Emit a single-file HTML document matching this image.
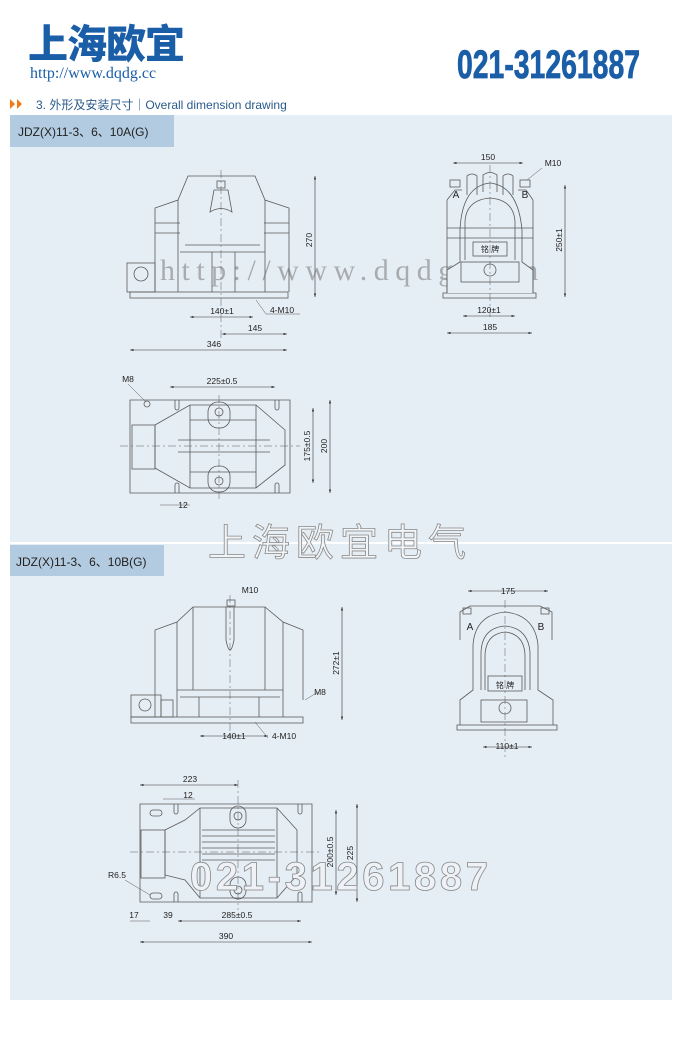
<!DOCTYPE html>
<html><head><meta charset="utf-8">
<style>
html,body{margin:0;padding:0;background:#fff;}
body{width:680px;height:1050px;position:relative;overflow:hidden;font-family:"Liberation Sans","Noto Sans CJK SC",sans-serif;}
</style></head><body>
<svg width="680" height="1050" viewBox="0 0 680 1050" xmlns="http://www.w3.org/2000/svg" style="position:absolute;left:0;top:0">
<defs>
<marker id="a" markerWidth="6" markerHeight="4" refX="6" refY="2" orient="auto-start-reverse"><path d="M0,0 L6,2 L0,4z" fill="#333"/></marker>
</defs>
<!-- header -->
<text x="28" y="58" font-family="'Noto Sans CJK SC',sans-serif" font-weight="900" font-size="40" fill="#1a5ea8" letter-spacing="-1">上海欧宜</text>
<text x="30" y="78" font-family="'Liberation Serif',serif" font-size="16" fill="#1a5ea8">http://www.dqdg.cc</text>
<text x="457" y="78" font-family="'Liberation Sans Narrow','Liberation Sans',sans-serif" font-weight="bold" font-size="40" fill="#1a5ea8" stroke="#1a5ea8" stroke-width="0.8" textLength="183" lengthAdjust="spacingAndGlyphs">021-31261887</text>
<path d="M10,99 L15,104 L10,109z M17,99 L22,104 L17,109z" fill="#f07a1a"/>
<text x="36" y="109" font-size="12" fill="#2a5a8a">3. 外形及安装尺寸｜Overall dimension drawing</text>
<!-- panel -->
<rect x="10" y="115" width="662" height="885" fill="#e6eef5"/>
<line x1="10" y1="543" x2="672" y2="543" stroke="#fff" stroke-width="2"/>
<rect x="10" y="115" width="164" height="32" fill="#b3cbe0"/>
<text x="18" y="136" font-size="12" fill="#222">JDZ(X)11-3、6、10A(G)</text>
<rect x="10" y="545" width="154" height="31" fill="#b3cbe0"/>
<text x="16" y="566" font-size="12" fill="#222">JDZ(X)11-3、6、10B(G)</text>

<!-- URL watermark (behind drawings) -->
<text x="160" y="280" font-family="'Liberation Serif',serif" font-size="30" letter-spacing="6.5" fill="#a8acb0">http://www.dqdg.com</text>

<g stroke="#5a5a5a" stroke-width="0.8" fill="none">
<!-- A front -->
<rect x="130" y="292" width="158" height="6"/>
<rect x="127" y="263" width="28" height="29"/>
<circle cx="141" cy="274" r="7"/>
<path d="M155,292 V208 L178,200 L188,176 H255 L265,200 L289,208 V292"/>
<path d="M178,200 V292 M265,200 V292 M155,223 H180 M155,233 H180 M264,223 H289 M264,233 H289"/>
<path d="M180,252 H265 M185,245 H260 M212,292 V252 M235,292 V252"/>
<path d="M210,212 L214,190 H228 L232,212 Q221,205 210,212z"/>
<rect x="217" y="181" width="8" height="7"/>
<line x1="221" y1="170" x2="221" y2="340" stroke-dasharray="8,3,2,3" stroke-width="0.5"/>
<!-- A side -->
<rect x="443" y="293" width="93" height="5" fill="#e6eef5"/>
<path d="M447,293 V270 L460,262 V230 Q462,186 490,183 Q518,186 522,230 V262 L533,270 V293" fill="#e6eef5"/>
<path d="M447,200 L455,190 H462 M533,200 L526,190 H518"/>
<path d="M447,200 V293 M533,200 V293"/>
<path d="M465,260 V222 Q466,200 490,198 Q514,200 515,222 V260"/>
<path d="M467,195 V176 Q472,172 477,176 V195 M483,192 V175 Q490,170 497,175 V192 M503,195 V176 Q508,172 513,176 V195"/>
<path d="M447,228 H533 M447,238 H533"/>
<rect x="473" y="242" width="34" height="14"/>
<rect x="461" y="262" width="58" height="20"/>
<circle cx="490" cy="270" r="6"/>
<rect x="450" y="180" width="10" height="7"/><rect x="520" y="180" width="10" height="7"/>
<line x1="490" y1="165" x2="490" y2="320" stroke-dasharray="8,3,2,3" stroke-width="0.5"/>
<!-- A plan -->
<path d="M130,400 H290 V493 H130z"/>
<path d="M175,400 v8 a2,2 0 0 0 4,0 v-8 M275,400 v8 a2,2 0 0 0 4,0 v-8 M175,493 v-8 a2,2 0 0 1 4,0 v8 M275,493 v-8 a2,2 0 0 1 4,0 v8"/>
<path d="M155,425 L190,405 H256 L285,430 V465 L256,488 H190 L155,468z"/>
<path d="M190,405 V488 M256,405 V488 M178,440 H270 M178,452 H270 M190,420 H256 M190,472 H256"/>
<rect x="208" y="402" width="22" height="26" rx="10"/><circle cx="219" cy="412" r="4"/>
<rect x="208" y="466" width="22" height="26" rx="10"/><circle cx="219" cy="481" r="4"/>
<rect x="132" y="425" width="23" height="44"/>
<circle cx="147" cy="404" r="3"/>
<line x1="120" y1="446" x2="300" y2="446" stroke-dasharray="8,3,2,3" stroke-width="0.5"/>
<line x1="219" y1="395" x2="219" y2="500" stroke-dasharray="8,3,2,3" stroke-width="0.5"/>
<!-- B front -->
<rect x="131" y="717" width="172" height="6"/>
<rect x="131" y="695" width="30" height="22"/><rect x="161" y="700" width="12" height="17"/>
<circle cx="145" cy="705" r="6"/>
<path d="M155,717 V630 L177,622 L193,607 H265 L283,622 L303,630 V700"/>
<path d="M177,622 V717 M283,622 V717 M193,607 V690 M265,607 V690"/>
<path d="M177,690 H283 M180,697 H280 M199,717 V697 M259,717 V697"/>
<path d="M226,607 V640 Q230,660 234,640 V607" />
<rect x="227" y="600" width="8" height="6"/>
<line x1="230" y1="595" x2="230" y2="740" stroke-dasharray="8,3,2,3" stroke-width="0.5"/>
<!-- B side -->
<rect x="457" y="725" width="100" height="5"/>
<path d="M460,725 V700 L473,690 V645 Q475,615 505,612 Q535,615 538,645 V690 L553,700 V725"/>
<path d="M460,640 V612 L470,606 H540 L552,612 V640"/>
<path d="M481,690 V652 Q482,628 505,626 Q528,628 530,652 V690"/>
<path d="M485,690 V655 Q486,634 505,632 Q524,634 525,655 V690"/>
<rect x="488" y="676" width="34" height="15"/>
<rect x="481" y="700" width="46" height="22"/>
<circle cx="505" cy="708" r="6"/>
<rect x="463" y="608" width="8" height="6"/><rect x="541" y="608" width="8" height="6"/>
<line x1="505" y1="600" x2="505" y2="760" stroke-dasharray="8,3,2,3" stroke-width="0.5"/>
<!-- B plan -->
<path d="M140,804 H312 V902 H140z"/>
<path d="M174,804 v8 a2,2 0 0 0 4,0 v-8 M298,804 v8 a2,2 0 0 0 4,0 v-8 M174,902 v-8 a2,2 0 0 1 4,0 v8 M298,902 v-8 a2,2 0 0 1 4,0 v8"/>
<path d="M165,830 L185,820 L200,808 H277 L297,830 V875 L277,898 H200 L185,880 L165,875z"/>
<path d="M200,808 V898 M277,808 V898 M202,830 H275 M202,836 H275 M202,842 H275 M202,848 H275 M202,854 H275 M202,860 H275"/>
<rect x="230" y="806" width="16" height="22" rx="8"/><circle cx="238" cy="816" r="4"/>
<rect x="230" y="877" width="16" height="22" rx="8"/><circle cx="238" cy="890" r="4"/>
<rect x="141" y="830" width="24" height="48"/>
<rect x="150" y="810" width="12" height="6" rx="3"/><rect x="150" y="893" width="12" height="6" rx="3"/>
<line x1="130" y1="852" x2="320" y2="852" stroke-dasharray="8,3,2,3" stroke-width="0.5"/>
<line x1="238" y1="780" x2="238" y2="910" stroke-dasharray="8,3,2,3" stroke-width="0.5"/>
</g>

<!-- dimensions -->
<g stroke="#333" stroke-width="0.6" fill="none" marker-start="url(#a)" marker-end="url(#a)">
<line x1="315" y1="176" x2="315" y2="297"/>
<line x1="190" y1="317" x2="253" y2="317"/>
<line x1="222" y1="334" x2="287" y2="334"/>
<line x1="130" y1="350" x2="287" y2="350"/>
<line x1="453" y1="163" x2="523" y2="163"/>
<line x1="565" y1="185" x2="565" y2="297"/>
<line x1="463" y1="316" x2="515" y2="316"/>
<line x1="447" y1="333" x2="532" y2="333"/>
<line x1="170" y1="387" x2="275" y2="387"/>
<line x1="313" y1="408" x2="313" y2="483"/>
<line x1="330" y1="400" x2="330" y2="493"/>
<line x1="200" y1="736" x2="268" y2="736"/>
<line x1="342" y1="607" x2="342" y2="720"/>
<line x1="468" y1="591" x2="548" y2="591"/>
<line x1="483" y1="747" x2="532" y2="747"/>
<line x1="140" y1="785" x2="238" y2="785"/>
<line x1="336" y1="810" x2="336" y2="895"/>
<line x1="357" y1="804" x2="357" y2="902"/>
<line x1="178" y1="921" x2="301" y2="921"/>
<line x1="140" y1="942" x2="312" y2="942"/>
</g>
<g stroke="#555" stroke-width="0.5">
<line x1="256" y1="300" x2="266" y2="314"/><line x1="266" y1="314" x2="300" y2="314"/>
<line x1="527" y1="180" x2="542" y2="168"/>
<line x1="128" y1="384" x2="146" y2="402"/>
<line x1="255" y1="722" x2="268" y2="738"/>
<line x1="305" y1="700" x2="318" y2="692"/>
<line x1="125" y1="880" x2="150" y2="895"/>
<line x1="130" y1="921" x2="150" y2="921"/>
<line x1="160" y1="505" x2="190" y2="505"/>
<line x1="163" y1="799" x2="195" y2="799"/>
</g>
<g font-size="8.5" fill="#222" text-anchor="middle">
<text x="222" y="314">140±1</text>
<text x="255" y="331">145</text>
<text x="214" y="347">346</text>
<text x="282" y="313">4-M10</text>
<text x="312" y="240" transform="rotate(-90 312 240)">270</text>
<text x="488" y="160">150</text>
<text x="553" y="166">M10</text>
<text x="562" y="240" transform="rotate(-90 562 240)">250±1</text>
<text x="489" y="313">120±1</text>
<text x="490" y="330">185</text>
<text x="456" y="198" font-size="10">A</text>
<text x="525" y="198" font-size="10">B</text>
<text x="490" y="252" font-size="8">铭 牌</text>
<text x="222" y="384">225±0.5</text>
<text x="128" y="382">M8</text>
<text x="310" y="446" transform="rotate(-90 310 446)">175±0.5</text>
<text x="327" y="446" transform="rotate(-90 327 446)">200</text>
<text x="183" y="508">12</text>
<text x="250" y="593">M10</text>
<text x="234" y="739">140±1</text>
<text x="284" y="739">4-M10</text>
<text x="320" y="695">M8</text>
<text x="339" y="663" transform="rotate(-90 339 663)">272±1</text>
<text x="508" y="594">175</text>
<text x="507" y="749">110±1</text>
<text x="470" y="630" font-size="10">A</text>
<text x="541" y="630" font-size="10">B</text>
<text x="505" y="688" font-size="8">铭 牌</text>
<text x="190" y="782">223</text>
<text x="188" y="798">12</text>
<text x="333" y="852" transform="rotate(-90 333 852)">200±0.5</text>
<text x="353" y="853" transform="rotate(-90 353 853)">225</text>
<text x="117" y="878">R6.5</text>
<text x="134" y="918">17</text>
<text x="168" y="918">39</text>
<text x="237" y="918">285±0.5</text>
<text x="226" y="939">390</text>
</g>
<!-- watermarks -->
<g fill="#f2f5f8" stroke="#888" stroke-width="0.8">
<text x="208" y="556" font-family="'Noto Sans CJK SC',sans-serif" font-size="38" letter-spacing="6">上海欧宜电气</text>
<text x="190" y="890" font-family="'Liberation Sans',sans-serif" font-size="40" fill="#eef2f6" font-weight="bold" textLength="298" lengthAdjust="spacing">021-31261887</text>
</g>
</svg>
</body></html>
